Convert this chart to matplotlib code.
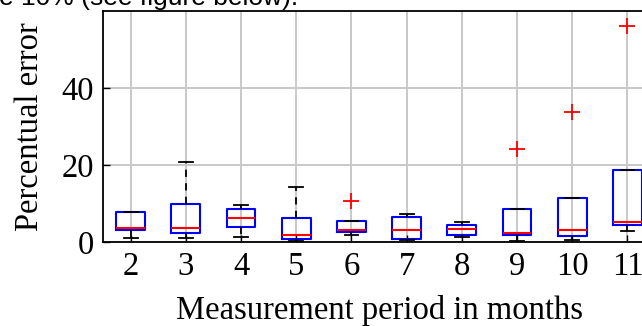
import matplotlib
matplotlib.use("Agg")
import matplotlib.pyplot as plt

months = [2, 3, 4, 5, 6, 7, 8, 9, 10, 11]
whis_lo = [1.1, 1.1, 1.2, 0.3, 1.7, 0.5, 1.4, 0.3, 0.6, 2.9]
q1 = [3.1, 2.4, 3.8, 0.7, 2.5, 0.9, 1.9, 1.7, 1.6, 4.3]
med = [3.7, 3.7, 6.3, 1.9, 3.1, 3.1, 3.3, 2.4, 3.1, 5.3]
q3 = [7.7, 9.9, 8.6, 6.2, 5.5, 6.5, 4.4, 8.6, 11.3, 18.8]
whis_hi = [7.9, 20.8, 9.7, 14.4, 5.5, 7.2, 5.1, 8.6, 11.3, 18.8]
outliers = [[], [], [], [], [10.7], [], [], [24.2], [33.7], [56.2]]

stats = []
for i in range(len(months)):
    stats.append(dict(whislo=whis_lo[i], q1=q1[i], med=med[i], q3=q3[i],
                      whishi=whis_hi[i], fliers=outliers[i]))

plt.rcParams['font.family'] = ['Liberation Serif', 'DejaVu Serif']
fs = 23.5

fig = plt.figure(figsize=(6.42, 3.26), dpi=100)
ax = fig.add_axes([103 / 642, 84 / 326, 552 / 642, 231 / 326])

ax.bxp(stats, positions=months, widths=0.52, capwidths=0.25,
       boxprops=dict(color='blue', linewidth=1.5),
       medianprops=dict(color='red', linewidth=1.5),
       whiskerprops=dict(color='black', linewidth=1.3, linestyle=(0, (4, 3.5))),
       capprops=dict(color='black', linewidth=1.3),
       flierprops=dict(marker='+', markeredgecolor='red', markersize=12,
                       markeredgewidth=1.3))

ax.set_xlim(1.5, 11.5)
ax.set_ylim(0, 60)
ax.set_xticks(months)
ax.set_xticklabels([str(m) for m in months])
ax.set_yticks([0, 20, 40])
ax.grid(True, color='#c8c8c8', linewidth=1.4)
ax.set_axisbelow(True)
ax.tick_params(direction='in', length=5, width=1, labelsize=fs)
ax.tick_params(axis='x', pad=7)
ax.tick_params(axis='y', pad=6.5)
for s in ax.spines.values():
    s.set_linewidth(1.3)

ax.set_xlabel('Measurement period in months', fontsize=fs)
ax.set_ylabel('Percentual error', fontsize=fs)
ax.xaxis.label.set_va('baseline')
ax.xaxis.set_label_coords(0.5, -77 / 231)
ax.yaxis.set_label_coords(-0.105, 0.5)

# clipped caption line from the surrounding document
fig.text(-0.002, 1 - 5 / 326, 'e 10% (see figure below).', fontsize=19,
         family=['Liberation Sans', 'DejaVu Sans'], va='baseline', ha='left')

fig.savefig('out.png', dpi=100)
